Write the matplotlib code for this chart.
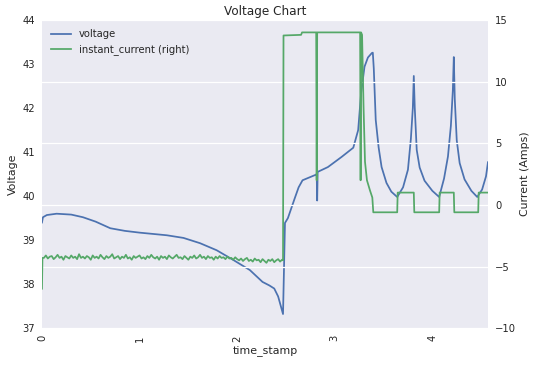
import matplotlib
matplotlib.use("Agg")
import matplotlib.pyplot as plt

# voltage readings (left axis)
volt_time = [0.0, 0.01, 0.05, 0.15, 0.30, 0.42, 0.55, 0.70, 0.85, 1.00, 1.28, 1.45,
             1.62, 1.79, 1.96, 2.13, 2.26, 2.33, 2.38, 2.42, 2.47, 2.49, 2.52, 2.59,
             2.63, 2.67, 2.80, 2.815, 2.82, 2.825, 2.93, 3.07, 3.19, 3.24, 3.27,
             3.305, 3.34, 3.38, 3.39, 3.40, 3.42, 3.45, 3.48, 3.53, 3.58, 3.64,
             3.70, 3.75, 3.78, 3.80, 3.81, 3.82, 3.84, 3.87, 3.92, 4.00, 4.07,
             4.12, 4.16, 4.19, 4.21, 4.22, 4.23, 4.25, 4.28, 4.33, 4.40, 4.46,
             4.51, 4.55, 4.57]
voltage = [39.40, 39.52, 39.57, 39.60, 39.58, 39.52, 39.42, 39.27, 39.21, 39.17, 39.11, 39.05,
           38.93, 38.77, 38.55, 38.32, 38.05, 37.97, 37.90, 37.72, 37.32, 39.39, 39.50, 39.95,
           40.20, 40.36, 40.48, 40.50, 39.90, 40.55, 40.66, 40.89, 41.10, 41.50, 42.34,
           42.94, 43.15, 43.25, 43.26, 42.90, 41.73, 41.10, 40.66, 40.30, 40.10, 39.98,
           40.20, 40.60, 41.30, 42.00, 42.73, 42.00, 41.05, 40.65, 40.35, 40.12, 39.98,
           40.40, 40.90, 41.60, 42.40, 43.16, 42.20, 41.27, 40.75, 40.38, 40.12, 39.98,
           40.15, 40.45, 40.77]

# instant current readings (right axis)
cur_time = [0.0, 0.005,
            0.02, 0.04, 0.06, 0.08, 0.10, 0.12, 0.14, 0.16, 0.18, 0.20,
            0.22, 0.24, 0.26, 0.28, 0.30, 0.32, 0.34, 0.36, 0.38, 0.40,
            0.42, 0.44, 0.46, 0.48, 0.50, 0.52, 0.54, 0.56, 0.58, 0.60,
            0.62, 0.64, 0.66, 0.68, 0.70, 0.72, 0.74, 0.76, 0.78, 0.80,
            0.82, 0.84, 0.86, 0.88, 0.90, 0.92, 0.94, 0.96, 0.98, 1.00,
            1.02, 1.04, 1.06, 1.08, 1.10, 1.12, 1.14, 1.16, 1.18, 1.20,
            1.22, 1.24, 1.26, 1.28, 1.30, 1.32, 1.34, 1.36, 1.38, 1.40,
            1.42, 1.44, 1.46, 1.48, 1.50, 1.52, 1.54, 1.56, 1.58, 1.60,
            1.62, 1.64, 1.66, 1.68, 1.70, 1.72, 1.74, 1.76, 1.78, 1.80,
            1.82, 1.84, 1.86, 1.88, 1.90, 1.92, 1.94, 1.96, 1.98, 2.00,
            2.02, 2.04, 2.06, 2.08, 2.10, 2.12, 2.14, 2.16, 2.18, 2.20,
            2.22, 2.24, 2.26, 2.28, 2.30, 2.32, 2.34, 2.36, 2.38, 2.40,
            2.42, 2.44, 2.46, 2.47,
            2.475, 2.655, 2.665, 2.81, 2.815, 2.82, 3.26, 3.265, 3.27, 3.28, 3.295, 3.31,
            3.33, 3.36, 3.385, 3.395, 3.64, 3.645, 3.81, 3.815, 4.07, 4.075, 4.22, 4.225,
            4.47, 4.475, 4.57]
current = [-6.80, -4.30,
           -4.30, -4.10, -4.35, -4.20, -4.15, -4.40, -4.25, -4.05, -4.30, -4.20,
           -4.45, -4.15, -4.25, -4.35, -4.10, -4.30, -4.20, -4.40, -4.00, -4.30,
           -4.20, -4.35, -4.15, -4.25, -4.45, -4.10, -4.30, -4.20, -4.35, -4.05,
           -4.25, -4.40, -4.15, -4.30, -4.20, -4.00, -4.35, -4.25, -4.15, -4.40,
           -4.20, -4.30, -4.05, -4.35, -4.25, -4.45, -4.15, -4.30, -4.20, -4.10,
           -4.35, -4.25, -4.40, -4.15, -4.30, -4.05, -4.25, -4.35, -4.20, -4.45,
           -4.15, -4.30, -4.20, -4.40, -4.10, -4.25, -4.35, -4.20, -4.05, -4.30,
           -4.25, -4.40, -4.15, -4.30, -4.45, -4.20, -4.30, -4.10, -4.35, -4.25,
           -4.05, -4.30, -4.20, -4.40, -4.15, -4.30, -4.25, -4.45, -4.20, -4.35,
           -4.15, -4.30, -4.25, -4.40, -4.20, -4.35, -4.30, -4.45, -4.25, -4.40,
           -4.50, -4.35, -4.55, -4.40, -4.30, -4.55, -4.45, -4.60, -4.35, -4.50,
           -4.45, -4.65, -4.40, -4.55, -4.70, -4.45, -4.55, -4.40, -4.65, -4.50,
           -4.40, -4.60, -4.45, -4.50,
           13.75, 13.80, 14.0, 14.0, 2.0, 14.0, 14.0, 2.0, 14.0, 13.8, 8.0, 3.5,
           2.0, 1.2, 0.6, -0.6, -0.6, 1.0, 1.0, -0.6, -0.6, 1.0, 1.0, -0.6,
           -0.6, 1.0, 1.0]

blue = "#4C72B0"
green = "#55A868"
dark = "#262626"
plt.rcParams["font.family"] = ["DejaVu Sans"]

# 72 dpi so that point sizes equal pixel sizes
fig = plt.figure(figsize=(538 / 72, 365 / 72), dpi=72)
ax1 = fig.add_axes([0.078, 0.101, 0.829, 0.844])
ax1.set_facecolor("#EAEAF2")
ax2 = ax1.twinx()

l1, = ax1.plot(volt_time, voltage, color=blue, lw=1.75, label="voltage")
l2, = ax2.plot(cur_time, current, color=green, lw=1.75, label="instant_current (right)")

ax1.set_xlim(0, 4.57)
ax1.set_ylim(37, 44)
ax2.set_ylim(-10, 15)
ax1.set_xticks([0, 1, 2, 3, 4])
ax1.set_yticks(range(37, 45))
ax2.set_yticks([-10, -5, 0, 5, 10, 15])
for lbl in ax1.get_xticklabels():
    lbl.set_rotation(90)

ax1.grid(False)
ax2.grid(True, axis="y", color="white", lw=1.25)
for ax in (ax1, ax2):
    for s in ax.spines.values():
        s.set_visible(False)
    ax.tick_params(length=0, colors=dark, labelsize=10, pad=7)

ax1.set_xlabel("time_stamp", color=dark, fontsize=11)
ax1.set_ylabel("Voltage", color=dark, fontsize=11)
ax2.set_ylabel("Current (Amps)", color=dark, fontsize=11)
ax1.set_title("Voltage Chart", color=dark, fontsize=12, pad=5)

ax2.legend(handles=[l1, l2], loc="upper left", frameon=False, fontsize=10,
           labelcolor=dark, borderaxespad=0.5)

fig.savefig("out.png", dpi=72)
